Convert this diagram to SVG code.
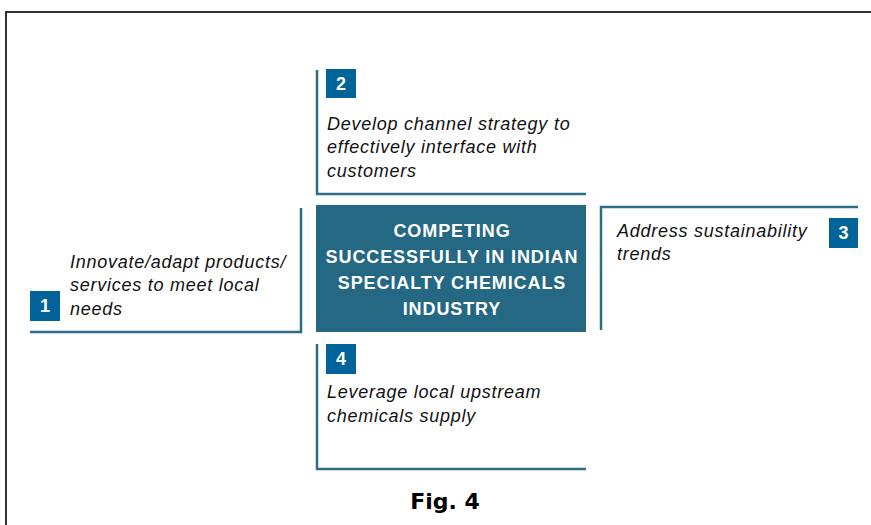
<svg xmlns="http://www.w3.org/2000/svg" width="871" height="525" viewBox="0 0 871 525">
<style>
.frame{fill:none;stroke:#333;stroke-width:2}
.edge{fill:none;stroke:#2f6c88;stroke-width:2.5}
.badge{fill:#00649a}
.num{font-family:"Liberation Sans",Arial,sans-serif;font-weight:bold;font-size:18px;fill:#fff;text-anchor:middle}
.txt{font-family:"Liberation Sans",Arial,sans-serif;font-style:italic;font-size:18px;letter-spacing:0.75px;fill:#111}
.ctr{font-family:"Liberation Sans",Arial,sans-serif;font-weight:bold;font-size:18px;letter-spacing:0.9px;fill:#fff;text-anchor:middle}
.fig{font-family:"DejaVu Sans",Verdana,sans-serif;font-weight:bold;font-size:22px;fill:#000;text-anchor:middle}
</style>
<rect width="871" height="525" fill="#fff"/>
<path class="frame" d="M6,530 V12 H875"/>
<g id="center">
<rect x="316" y="205" width="270" height="127" fill="#246884"/>
<text class="ctr" x="452" y="237">COMPETING</text>
<text class="ctr" x="452" y="263">SUCCESSFULLY IN INDIAN</text>
<text class="ctr" x="452" y="289">SPECIALTY CHEMICALS</text>
<text class="ctr" x="452" y="315">INDUSTRY</text>
</g>
<g id="node1">
<path class="edge" d="M301,208 V332 H30"/>
<rect class="badge" x="30" y="291" width="30" height="30"/>
<text class="num" x="45" y="312">1</text>
<text class="txt" x="70" y="268">Innovate/adapt products/</text>
<text class="txt" x="70" y="291">services to meet local</text>
<text class="txt" x="70" y="315">needs</text>
</g>
<g id="node2">
<path class="edge" d="M317,70 V194 H586"/>
<rect class="badge" x="326" y="69" width="30" height="29"/>
<text class="num" x="341" y="90">2</text>
<text class="txt" x="327" y="130">Develop channel strategy to</text>
<text class="txt" x="327" y="153">effectively interface with</text>
<text class="txt" x="327" y="177">customers</text>
</g>
<g id="node3">
<path class="edge" d="M601,330 V207 H858"/>
<rect class="badge" x="829" y="218" width="29" height="30"/>
<text class="num" x="843.5" y="239">3</text>
<text class="txt" x="617" y="237">Address sustainability</text>
<text class="txt" x="617" y="260">trends</text>
</g>
<g id="node4">
<path class="edge" d="M317,344 V469 H586"/>
<rect class="badge" x="326" y="344" width="30" height="30"/>
<text class="num" x="341" y="365">4</text>
<text class="txt" x="327" y="398">Leverage local upstream</text>
<text class="txt" x="327" y="422">chemicals supply</text>
</g>
<g id="connectors"></g>
<text class="fig" x="445" y="509">Fig. 4</text>
</svg>
